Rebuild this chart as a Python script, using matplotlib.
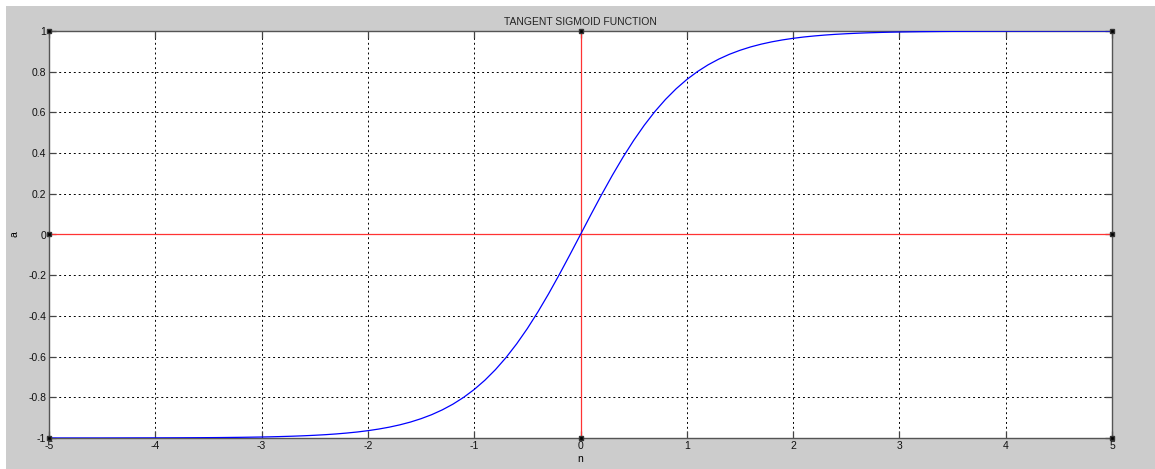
import matplotlib.pyplot as plt
from matplotlib.patches import Rectangle

# values (right half; the curve is odd-symmetric)
n_pos = [0.0, 0.1, 0.2, 0.3, 0.4, 0.5, 0.6, 0.7, 0.8, 0.9,
         1.0, 1.1, 1.2, 1.3, 1.4, 1.5, 1.6, 1.7, 1.8, 1.9,
         2.0, 2.1, 2.2, 2.3, 2.4, 2.5, 2.6, 2.7, 2.8, 2.9,
         3.0, 3.2, 3.4, 3.6, 3.8, 4.0, 4.5, 5.0]
a_pos = [0.0, 0.0997, 0.1974, 0.2913, 0.3799, 0.4621, 0.5370, 0.6044, 0.6640, 0.7163,
         0.7616, 0.8005, 0.8337, 0.8617, 0.8854, 0.9051, 0.9217, 0.9354, 0.9468, 0.9562,
         0.9640, 0.9705, 0.9757, 0.9801, 0.9837, 0.9866, 0.9890, 0.9910, 0.9926, 0.9940,
         0.9951, 0.9967, 0.9978, 0.9985, 0.9990, 0.9993, 0.9998, 0.9999]
x_ticks = [-5, -4, -3, -2, -1, 0, 1, 2, 3, 4, 5]
y_ticks = [-1, -0.8, -0.6, -0.4, -0.2, 0, 0.2, 0.4, 0.6, 0.8, 1]
y_labels = ['-1', '-0.8', '-0.6', '-0.4', '-0.2', '0', '0.2', '0.4', '0.6', '0.8', '1']

n_vals = [-v for v in n_pos[:0:-1]] + n_pos
a_vals = [-v for v in a_pos[:0:-1]] + a_pos

plt.rcParams['font.family'] = ['Liberation Sans', 'DejaVu Sans']
plt.rcParams['axes.unicode_minus'] = False

fig = plt.figure(figsize=(11.55, 4.69), dpi=100, facecolor='white')
# grey window area (thin white margin at top and left)
fig.patches.append(Rectangle((6 / 1155, 0), 1, 1 - 6 / 469, transform=fig.transFigure,
                             facecolor='#cccccc', edgecolor='none', zorder=-10))

ax = fig.add_axes([49 / 1155, 31 / 469, 1063 / 1155, 407 / 469])
ax.set_facecolor('white')

# red axis lines with small square end markers
ax.plot([-5, 0, 5], [0, 0, 0], color='#ff3333', linewidth=0.9, zorder=3)
ax.plot([0, 0, 0], [-1, 0, 1], color='#ff3333', linewidth=0.9, zorder=3)
ax.plot([-5, 0, 5, -5, 5, -5, 0, 5], [1, 1, 1, 0, 0, -1, -1, -1], linestyle='none',
        marker='s', markersize=3.2, markerfacecolor='black', markeredgecolor='#333333',
        zorder=5, clip_on=False)

ax.plot(n_vals, a_vals, color='#0000ff', linewidth=0.9, zorder=4)

ax.set_xlim(-5, 5)
ax.set_ylim(-1, 1)
ax.set_xticks(x_ticks)
ax.set_yticks(y_ticks)
ax.set_yticklabels(y_labels)
ax.grid(True, color='black', linestyle=(0, (2, 3)), linewidth=0.7)
ax.tick_params(direction='in', top=True, right=True, length=5, width=0.9,
               color='#444444', labelsize=7.5, pad=2, labelcolor='#111111')
for s in ax.spines.values():
    s.set_color('#555555')
    s.set_linewidth(1.0)

ax.set_title('TANGENT SIGMOID FUNCTION', fontsize=7.5, pad=4, color='#222222')
ax.set_xlabel('n', fontsize=7.5, labelpad=2)
ax.set_ylabel('a', fontsize=7.5)
ax.yaxis.set_label_coords(-29 / 1063, 0.5)

fig.savefig('out.png', dpi=100, facecolor=fig.get_facecolor())
